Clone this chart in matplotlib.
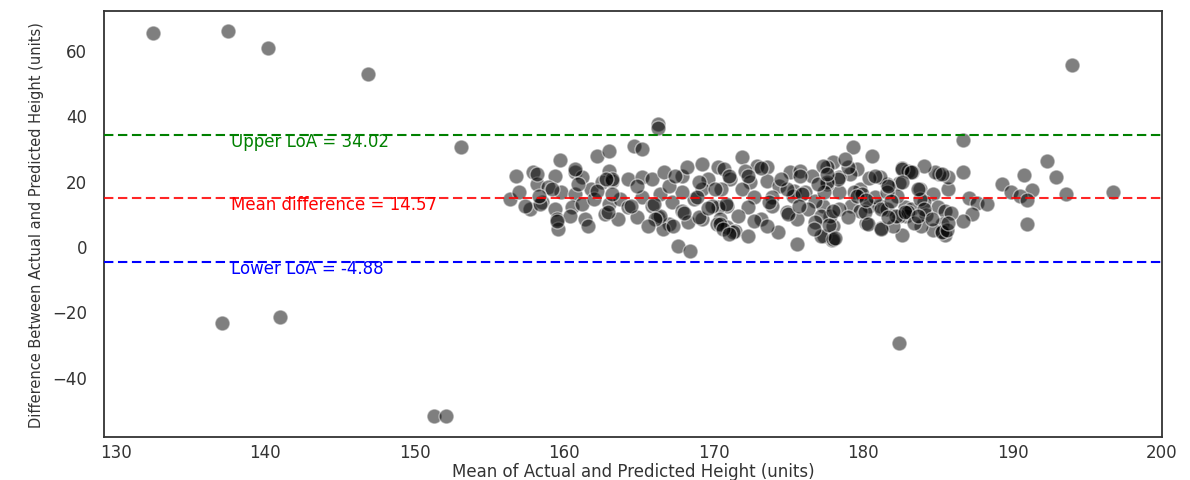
import matplotlib
matplotlib.use("Agg")
import matplotlib.pyplot as plt
import numpy as np

# Mean of actual and predicted height (x) and difference (y)
pts = [
    # outliers
    (132.5, 65.1), (137.5, 65.8), (140.2, 60.6), (146.9, 52.6), (153.1, 30.3),
    (194.0, 55.3), (137.1, -23.5), (141.0, -21.7), (151.3, -52.0), (152.1, -52.0),
    (182.4, -29.7), (196.7, 16.5), (186.7, 32.4), (166.3, 37.3), (166.3, 36.1),
    # right part of cluster
    (192.3, 26.0), (190.8, 21.7), (192.9, 21.1), (189.3, 19.0), (191.3, 17.1),
    (189.9, 16.5), (190.5, 15.3), (191.0, 14.1), (193.6, 15.9), (191.0, 6.7),
    (186.7, 22.6), (187.1, 14.7), (187.6, 13.1), (188.3, 12.8), (187.3, 9.8),
    (186.7, 7.6), (185.7, 17.4), (185.7, 21.1), (185.1, 22.0), (184.8, 22.6),
    (184.1, 24.5), (183.8, 17.4), (184.7, 15.9), (184.1, 13.5), (185.0, 11.9),
    (185.5, 10.7), (185.9, 10.1), (184.2, 9.5), (185.3, 6.7), (185.3, 4.6),
    (185.5, 3.4), (184.7, 4.9), (182.6, 3.4), (182.8, 11.9), (182.9, 9.2),
    (182.4, 9.2), (183.2, 11.3), (182.4, 19.3), (182.6, 23.9), (183.0, 22.9),
    (183.3, 22.6), (182.3, 15.3), (183.8, 14.4), (181.2, 5.5), (180.2, 7.0),
    (180.6, 27.5), (179.3, 30.3), (177.9, 1.8), (177.4, 3.1), (178.0, 6.1),
    (179.8, 17.4), (179.2, 12.2), (179.4, 16.5), (181.1, 12.2), (181.6, 11.3),
    (180.4, 12.2), (181.6, 19.0), (181.1, 21.1), (180.4, 20.8), (179.6, 23.5),
    (179.1, 22.0), (178.4, 21.1), (178.0, 25.7), (177.6, 24.2), (178.4, 16.5),
    (177.6, 19.0), (177.3, 12.2), (177.8, 9.2), (178.4, 11.3), (179.8, 10.7),
    (182.0, 6.1),
    # middle of cluster
    (171.9, 27.2), (170.3, 24.2), (170.7, 23.5), (172.9, 24.5), (173.6, 24.2),
    (172.1, 22.9), (175.1, 22.6), (175.8, 22.9), (176.6, 21.4), (177.3, 24.5),
    (179.0, 24.2), (178.3, 20.5), (177.6, 19.6), (182.6, 23.5), (183.2, 22.6),
    (185.3, 22.0), (171.1, 20.5), (172.4, 19.6), (173.6, 19.9), (174.4, 18.3),
    (175.4, 16.8), (176.1, 16.5), (170.5, 17.4), (171.9, 17.4), (172.7, 15.0),
    (173.9, 15.0), (175.3, 15.3), (176.8, 13.8), (177.4, 16.5), (179.9, 15.9),
    (180.8, 15.0), (181.6, 16.5), (182.6, 19.6), (183.7, 17.4), (170.9, 12.2),
    (170.3, 11.9), (172.3, 11.9), (173.9, 12.2), (174.9, 10.4), (176.3, 11.3),
    (177.2, 9.2), (178.0, 10.7), (180.1, 10.4), (181.2, 11.3), (182.2, 9.2),
    (183.0, 10.4), (184.1, 11.3), (170.4, 8.3), (170.9, 5.8), (171.4, 4.6),
    (172.3, 3.1), (173.2, 8.3), (174.3, 4.3), (175.6, 8.3), (175.6, 0.6),
    (176.8, 7.3), (177.2, 3.1), (178.0, 2.1), (179.0, 8.9), (180.3, 6.7),
    (181.2, 5.2), (182.8, 10.4), (183.9, 6.1), (185.3, 4.3),
    # left part of cluster
    (164.7, 30.6), (165.2, 29.7), (162.2, 27.5), (163.0, 29.1), (159.7, 26.3),
    (156.8, 21.4), (157.9, 22.6), (159.4, 21.4), (160.7, 22.6), (161.2, 21.1),
    (163.0, 22.9), (158.2, 19.0), (158.9, 18.0), (159.8, 16.5), (160.7, 15.9),
    (161.8, 17.4), (162.5, 19.6), (163.2, 19.9), (164.3, 20.5), (165.2, 21.1),
    (165.9, 20.5), (166.7, 22.6), (167.9, 21.4), (168.2, 24.2), (169.2, 25.1),
    (169.6, 20.5), (156.4, 14.4), (157.0, 16.5), (157.7, 11.3), (158.5, 13.5),
    (159.4, 11.3), (159.5, 8.3), (159.6, 5.2), (160.5, 11.9), (160.4, 9.2),
    (161.4, 8.3), (161.2, 12.8), (162.0, 14.4), (162.7, 9.8), (163.0, 12.8),
    (163.7, 14.4), (163.6, 8.3), (164.3, 11.9), (164.9, 8.9), (165.2, 15.0),
    (165.9, 12.2), (166.3, 8.9), (167.0, 6.7), (166.6, 5.2), (167.2, 13.5),
    (167.9, 10.7), (168.3, 7.3), (169.2, 8.3), (168.7, 14.4), (169.9, 12.2),
    (170.2, 6.7), (167.6, 0.0), (168.4, -1.5), (166.4, 15.9), (167.9, 16.5),
    (169.2, 17.4), (167.0, 18.3), (160.7, 23.5), (163.2, 20.5), (158.4, 12.8),
    (159.5, 7.6), (166.4, 9.2), (170.4, 6.7), (171.3, 4.3),
    # overlapping (darker) spots
    (158.2, 22.0), (159.2, 17.5), (162.2, 16.8), (162.8, 20.5), (162.9, 10.3),
    (164.5, 12.4), (166.0, 12.8), (166.1, 8.3), (167.3, 6.2), (168.0, 10.2),
    (168.9, 14.9), (169.0, 8.8), (169.6, 11.7), (173.2, 24.0), (174.9, 17.4),
    (175.9, 16.0), (177.0, 19.0), (177.6, 22.0), (179.6, 15.4), (180.2, 14.0),
    (181.9, 13.9), (170.6, 5.2), (171.0, 3.8), (173.7, 13.4), (175.0, 9.8),
    (175.7, 12.3), (176.7, 5.2), (177.7, 6.5), (178.1, 2.6), (183.4, 7.2),
    (185.6, 5.0),
    # further cluster points
    (171.6, 9.3), (172.7, 7.8), (173.6, 6.2), (171.0, 21.5), (172.3, 21.5),
    (174.5, 20.5), (175.8, 21.5), (178.8, 26.6), (180.8, 21.5), (181.7, 18.4),
    (181.7, 8.8), (183.7, 9.3), (184.6, 8.3), (185.7, 7.2), (157.4, 12.3),
    (158.3, 15.4), (160.9, 19.0), (161.6, 6.2), (163.2, 15.9), (164.9, 18.4),
    (165.6, 6.2), (167.4, 21.5), (169.0, 19.5), (170.1, 17.4), (170.8, 13.0),
]
mean_vals = [p[0] for p in pts]
diff_vals = [p[1] for p in pts]

mean_diff = 14.57
upper_loa = 34.02
lower_loa = -4.88

fig = plt.figure(figsize=(11.9, 4.81), dpi=100)
ax = fig.add_axes([0.0874, 0.0894, 0.889, 0.8856])

ax.scatter(mean_vals, diff_vals, s=115, c='black', alpha=0.5,
           edgecolors='white', linewidths=1.0, zorder=2)

dash = (0, (4.5, 2.2))
ax.axhline(upper_loa, color='green', linestyle=dash, linewidth=1.5, zorder=3)
ax.axhline(mean_diff, color='red', linestyle=dash, linewidth=1.5, alpha=0.85, zorder=3)
ax.axhline(lower_loa, color='blue', linestyle=dash, linewidth=1.5, zorder=3)

tx = 137.7
ax.text(tx, upper_loa - 1.8, f'Upper LoA = {upper_loa:.2f}', color='green',
        fontsize=12, va='center', ha='left')
ax.text(tx, mean_diff - 1.8, f'Mean difference = {mean_diff:.2f}', color='red',
        fontsize=12, va='center', ha='left')
ax.text(tx, lower_loa - 1.8, f'Lower LoA = {lower_loa:.2f}', color='blue',
        fontsize=12, va='center', ha='left')

ax.set_xlim(129.2, 199.9)
ax.set_ylim(-58.4, 71.9)
ax.set_xticks([130, 140, 150, 160, 170, 180, 190, 200])
ax.set_yticks([-40, -20, 0, 20, 40, 60])

for sp in ax.spines.values():
    sp.set_color('#333333')
    sp.set_linewidth(1.3)
ax.tick_params(axis='both', length=0, labelsize=12, colors='#333333')
ax.tick_params(axis='y', pad=12)
ax.tick_params(axis='x', pad=4)

ax.set_xlabel('Mean of Actual and Predicted Height (units)', fontsize=12,
              color='#333333', labelpad=1)
ax.set_ylabel('Difference Between Actual and Predicted Height (units)', fontsize=10.5,
              color='#333333', labelpad=6)

fig.savefig('out.png', dpi=100)
